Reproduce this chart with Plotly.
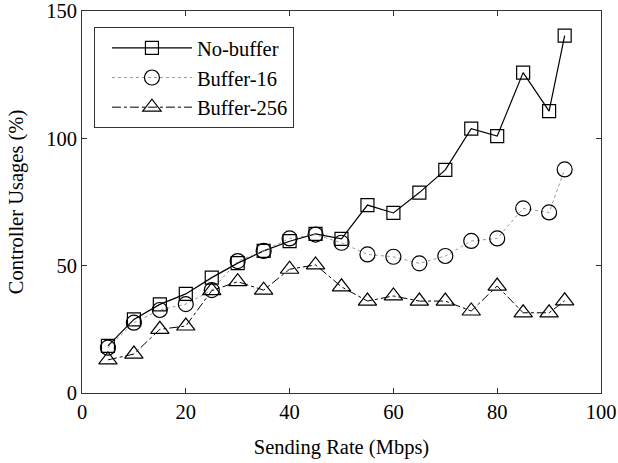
import plotly.graph_objects as go

rate = [5, 10, 15, 20, 25, 30, 35, 40, 45, 50, 55, 60, 65, 70, 75, 80, 85, 90, 93]
no_buffer = [18.5, 28.9, 34.8, 38.9, 45.3, 51.0, 55.8, 59.6, 62.5, 60.5, 73.8, 70.7, 78.7, 87.6, 103.8, 100.9, 125.8, 110.7, 140.3]
buffer16 = [17.8, 27.6, 32.6, 34.9, 40.4, 51.8, 55.8, 60.7, 62.2, 59.0, 54.4, 53.5, 50.9, 53.8, 59.7, 60.7, 72.5, 70.9, 87.8]
buffer256 = [13.0, 15.3, 25.0, 26.3, 40.2, 43.7, 40.4, 48.6, 50.3, 41.7, 36.1, 38.1, 36.1, 36.1, 32.2, 42.0, 31.5, 31.5, 36.2]

font = "Liberation Serif"
fsize = 20.5

fig = go.Figure()
fig.add_trace(go.Scatter(x=rate, y=no_buffer, name="No-buffer", mode="lines+markers",
                         line=dict(color="black", width=1.2),
                         marker=dict(symbol="square-open", size=13, color="black", line=dict(width=1.2))))
fig.add_trace(go.Scatter(x=rate, y=buffer16, name="Buffer-16", mode="lines+markers",
                         line=dict(color="#999999", width=1, dash="dot"),
                         marker=dict(symbol="circle-open", size=15, color="black", line=dict(width=1.2))))
fig.add_trace(go.Scatter(x=rate, y=buffer256, name="Buffer-256", mode="lines+markers",
                         line=dict(color="black", width=1, dash="dashdot"),
                         marker=dict(symbol="triangle-up-open", size=16, color="black", line=dict(width=1.2))))

axis_common = dict(showline=True, linecolor="#333333", linewidth=1, mirror="ticks",
                   ticks="inside", ticklen=5, tickcolor="#333333", showgrid=False, zeroline=False,
                   automargin=False, ticklabeloverflow="allow",
                   tickfont=dict(family=font, size=fsize, color="black"))
fig.update_xaxes(range=[0, 100], dtick=20, title=dict(text="Sending Rate (Mbps)", font=dict(family=font, size=fsize, color="black"), standoff=18), **axis_common)
fig.update_yaxes(range=[0, 150], dtick=50, title=dict(text="Controller Usages (%)", font=dict(family=font, size=fsize, color="black"), standoff=16), **axis_common)

fig.update_layout(
    width=618, height=463,
    margin=dict(l=82, r=17, t=11, b=70),
    plot_bgcolor="white", paper_bgcolor="white",
    font=dict(family=font, size=fsize, color="black"),
    legend=dict(x=0.023, y=0.958, xanchor="left", yanchor="top",
                bordercolor="#333333", borderwidth=1, bgcolor="white",
                itemwidth=80, indentation=12, tracegroupgap=0,
                font=dict(family=font, size=fsize, color="black")),
)

fig.write_html("out.html", config={"displayModeBar": False},
               post_script="document.body.style.margin='0';document.body.style.padding='0';")
